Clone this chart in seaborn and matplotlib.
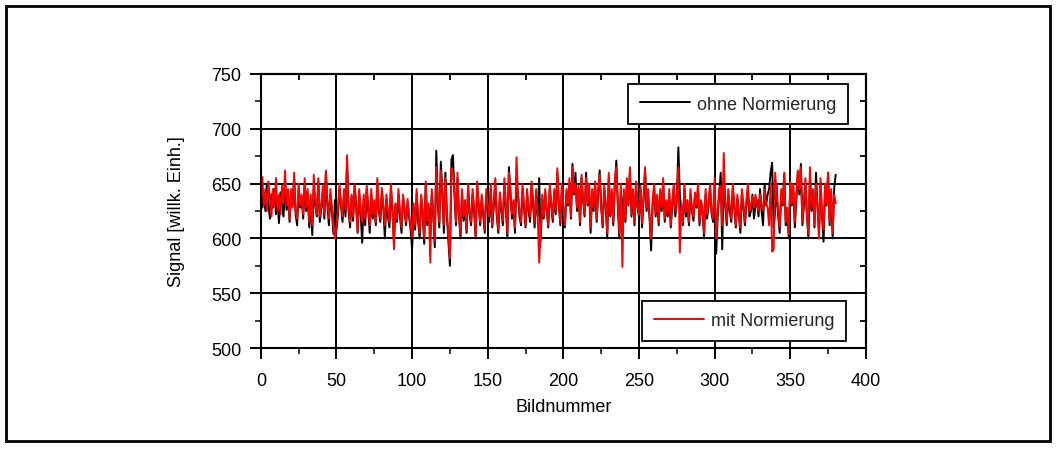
import numpy as np
import pandas as pd
import matplotlib
matplotlib.use("Agg")
import matplotlib.pyplot as plt
from matplotlib.lines import Line2D
from matplotlib.patches import Rectangle
from matplotlib.ticker import MultipleLocator
import seaborn as sns

# Signal per frame, raw and normalised
ohne_normierung = [
    655, 628, 640, 625, 650, 632, 618, 640, 628, 645, 622, 636, 614, 642, 630, 620, 648, 626, 638, 615,
    640, 630, 655, 622, 612, 645, 628, 636, 618, 650, 625, 640, 610, 635, 603, 645, 630, 620, 652, 615,
    628, 642, 618, 660, 630, 612, 640, 625, 604, 635, 608, 622, 645, 630, 615, 640, 620, 668, 625, 610,
    638, 616, 648, 630, 605, 640, 622, 596, 635, 612, 645, 625, 605, 640, 618, 630, 612, 650, 625, 615,
    642, 628, 600, 636, 620, 610, 645, 625, 598, 630, 615, 640, 620, 605, 638, 625, 612, 632, 620, 608,
    590, 628, 608, 640, 615, 600, 636, 622, 595, 650, 612, 628, 604, 640, 620, 592, 680, 630, 610, 670,
    640, 605, 660, 620, 598, 575, 672, 676, 640, 612, 655, 620, 600, 640, 616, 630, 605, 645, 622, 612,
    640, 625, 600, 648, 630, 612, 635, 622, 605, 640, 628, 615, 645, 610, 630, 648, 620, 605, 638, 625,
    612, 650, 628, 600, 665, 640, 618, 630, 605, 652, 640, 620, 612, 645, 628, 610, 640, 625, 615, 648,
    630, 610, 640, 620, 655, 598, 635, 618, 640, 625, 610, 645, 630, 615, 640, 622, 660, 630, 612, 645,
    625, 610, 640, 630, 650, 618, 668, 640, 660, 625, 645, 612, 655, 635, 620, 660, 630, 648, 605, 640,
    625, 650, 615, 640, 662, 628, 610, 645, 630, 600, 655, 620, 640, 612, 648, 671, 630, 600, 645, 620,
    640, 615, 650, 630, 660, 620, 640, 612, 650, 628, 620, 645, 610, 635, 662, 625, 640, 618, 589, 630,
    645, 620, 635, 612, 640, 625, 650, 615, 630, 620, 640, 610, 630, 645, 620, 635, 683, 640, 625, 612,
    645, 620, 630, 612, 640, 625, 616, 638, 628, 645, 612, 630, 625, 600, 640, 618, 630, 645, 622, 615,
    650, 586, 620, 640, 660, 590, 655, 630, 612, 640, 625, 615, 645, 628, 610, 636, 620, 605, 640, 628,
    612, 630, 645, 620, 625, 640, 618, 630, 635, 620, 645, 625, 612, 650, 630, 640, 645, 660, 669, 610,
    625, 648, 620, 605, 640, 630, 658, 612, 625, 600, 648, 630, 645, 610, 635, 660, 640, 668, 612, 630,
    650, 620, 600, 655, 625, 640, 610, 660, 628, 605, 650, 620, 597, 645, 630, 660, 612, 640, 600, 645,
    658,
]

mit_normierung = [
    650, 656, 630, 645, 625, 652, 636, 620, 645, 630, 655, 625, 640, 622, 648, 632, 662, 630, 645, 618,
    645, 628, 660, 625, 618, 650, 630, 640, 622, 655, 628, 645, 615, 640, 612, 658, 635, 622, 655, 620,
    630, 648, 622, 662, 635, 618, 645, 628, 610, 600, 612, 628, 650, 632, 620, 645, 626, 676, 630, 615,
    640, 620, 650, 632, 606, 645, 628, 615, 640, 618, 648, 630, 612, 645, 622, 635, 615, 655, 628, 618,
    646, 630, 612, 640, 625, 615, 650, 628, 590, 632, 618, 645, 624, 610, 640, 628, 615, 636, 622, 612,
    602, 632, 612, 645, 620, 605, 640, 626, 600, 652, 616, 632, 578, 645, 625, 598, 665, 635, 615, 662,
    645, 612, 655, 625, 602, 582, 664, 660, 645, 615, 660, 622, 604, 645, 620, 635, 608, 650, 625, 615,
    645, 628, 602, 652, 632, 615, 640, 625, 608, 645, 630, 620, 650, 612, 635, 655, 622, 608, 642, 628,
    616, 655, 630, 605, 660, 645, 622, 635, 610, 674, 640, 625, 615, 650, 630, 612, 645, 628, 620, 652,
    635, 615, 645, 622, 578, 605, 640, 620, 645, 628, 612, 650, 632, 618, 645, 625, 664, 632, 615, 650,
    628, 612, 645, 632, 655, 620, 665, 642, 650, 628, 648, 615, 658, 638, 622, 655, 632, 650, 610, 645,
    628, 652, 618, 645, 658, 630, 612, 648, 632, 605, 660, 622, 645, 615, 652, 665, 632, 605, 650, 574,
    645, 618, 655, 632, 665, 622, 645, 615, 652, 630, 622, 648, 614, 638, 665, 628, 645, 620, 600, 635,
    650, 622, 640, 615, 645, 628, 655, 618, 635, 622, 645, 612, 635, 650, 625, 640, 665, 587, 630, 615,
    650, 624, 635, 615, 645, 628, 620, 642, 630, 650, 615, 635, 628, 605, 645, 622, 635, 650, 625, 618,
    655, 600, 625, 645, 648, 612, 678, 635, 615, 645, 630, 618, 650, 632, 612, 640, 624, 610, 645, 632,
    615, 635, 650, 625, 630, 638, 628, 640, 632, 625, 640, 630, 625, 645, 632, 628, 612, 650, 588, 590,
    660, 640, 625, 610, 645, 632, 660, 615, 628, 604, 652, 632, 650, 615, 640, 662, 645, 665, 615, 635,
    655, 622, 604, 665, 628, 645, 612, 650, 630, 600, 655, 622, 608, 650, 632, 660, 615, 645, 605, 640,
    632,
]

bildnummer = np.arange(len(ohne_normierung))
x_ticks = [0, 50, 100, 150, 200, 250, 300, 350, 400]
y_ticks = [500, 550, 600, 650, 700, 750]
label_ohne = "ohne Normierung"
label_mit = "mit Normierung"

df = pd.DataFrame({
    "Bildnummer": np.concatenate([bildnummer, bildnummer]),
    "Signal": ohne_normierung + mit_normierung,
    "Reihe": [label_ohne] * len(ohne_normierung) + [label_mit] * len(mit_normierung),
})

sns.set_theme(style="white")
plt.rcParams["font.family"] = ["Liberation Sans", "DejaVu Sans"]
FS = 13

fig = plt.figure(figsize=(10.56, 4.56), dpi=100)
fig.patches.append(Rectangle((0.006, 0.03), 0.988, 0.954, transform=fig.transFigure,
                             fill=False, edgecolor="black", linewidth=2))
ax = fig.add_axes([0.247, 0.2346, 0.573, 0.601])

sns.lineplot(data=df, x="Bildnummer", y="Signal", hue="Reihe",
             palette={label_ohne: "black", label_mit: "#ff0000"},
             linewidth=1.4, ax=ax, legend=False, estimator=None, sort=False)

ax.set_xlim(0, 400)
ax.set_ylim(500, 750)
ax.set_xticks(x_ticks)
ax.set_yticks(y_ticks)
ax.xaxis.set_minor_locator(MultipleLocator(25))
ax.yaxis.set_minor_locator(MultipleLocator(25))
ax.grid(True, which="major", color="black", linewidth=1.4)
ax.set_axisbelow(True)
for sp in ax.spines.values():
    sp.set_color("black")
    sp.set_linewidth(1.5)

# outward ticks on the left and bottom
ax.tick_params(which="major", direction="out", length=8, width=1.4, labelsize=FS,
               colors="black", left=True, bottom=True, top=False, right=False)
ax.tick_params(axis="x", which="major", pad=9)
ax.tick_params(axis="y", which="major", pad=6)
ax.tick_params(which="minor", direction="out", length=4.5, width=1.3,
               left=True, bottom=True, top=False, right=False)

# inward ticks on the top and right
sec_x = ax.secondary_xaxis("top")
sec_x.set_xticks(x_ticks, labels=[])
sec_x.xaxis.set_minor_locator(MultipleLocator(25))
sec_x.tick_params(which="both", direction="in", width=1.3, length=4.5, colors="black")
sec_x.spines["top"].set_linewidth(1.5)
sec_y = ax.secondary_yaxis("right")
sec_y.set_yticks(y_ticks, labels=[])
sec_y.yaxis.set_minor_locator(MultipleLocator(25))
sec_y.tick_params(which="both", direction="in", width=1.3, length=4.5, colors="black")
sec_y.spines["right"].set_linewidth(1.5)

ax.set_xlabel("Bildnummer", fontsize=FS, color="black", labelpad=7)
ax.set_ylabel("Signal [willk. Einh.]", fontsize=FS, color="black", labelpad=19)

leg_kw = dict(fontsize=FS, fancybox=False, framealpha=1, edgecolor="black",
              handlelength=2.8, borderpad=0.65, handletextpad=0.35, borderaxespad=0)
leg1 = ax.legend(handles=[Line2D([], [], color="black", linewidth=1.4)], labels=[label_ohne],
                 loc="upper right", bbox_to_anchor=(0.970, 0.9635), **leg_kw)
leg1.get_frame().set_linewidth(1.3)
ax.add_artist(leg1)
leg2 = ax.legend(handles=[Line2D([], [], color="#ff0000", linewidth=1.4)], labels=[label_mit],
                 loc="lower right", bbox_to_anchor=(0.967, 0.0255), **leg_kw)
leg2.get_frame().set_linewidth(1.3)

fig.savefig("out.png", dpi=100)
